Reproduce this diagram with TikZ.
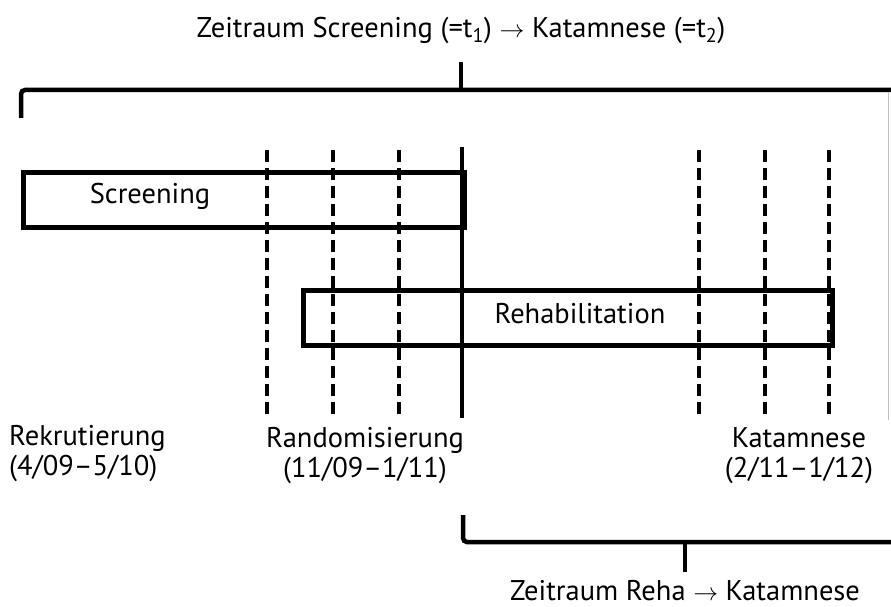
\documentclass[tikz,border=0pt]{standalone}
\usepackage{fontspec}
\setmainfont{PT Sans}
\begin{document}
\begin{tikzpicture}[x=1pt,y=-1pt,
  every node/.style={font=\fontsize{28.5}{32}\selectfont, inner sep=0pt},
  box/.style={draw, line width=4.5pt, minimum width=#1, minimum height=55pt, anchor=north west},
  solidline/.style={line width=4.5pt},
  dashline/.style={line width=4.5pt, dash pattern=on 12pt off 6pt},
  bracket/.style={line width=4.5pt, rounded corners=4pt},
  lbl/.style={align=center}]
\useasboundingbox (0,0) rectangle (891,607);

% title and top bracket
\node[lbl] (title) at (461,30) {Zeitraum Screening (=t\textsubscript{1}) \ensuremath{\rightarrow} Katamnese (=t\textsubscript{2})};
\coordinate (tl) at (21,118);
\coordinate (tc) at (461,62);
\draw[bracket] (tl) |- (893,90);
\draw[solidline] (tc) -- (461,90);
\draw[black!25, line width=1pt] (888,92) -- (888,420);

% boxes
\node[box=441pt] (scr) at (21,170) {};
\node at (150,196) {Screening};
\node[box=529pt] (reha) at (301,288) {};
\node at (580,314) {Rehabilitation};

% vertical lines
\foreach \x in {267,333,399,699,765,829}
  \draw[dashline] (\x,150) -- (\x,418);
\draw[solidline] (462,147) -- (462,418);

% labels
\node[align=left, anchor=west] (rek) at (9,454) {Rekrutierung\\[-2pt](4/09--5/10)};
\node[lbl] (ran) at (365,456) {Randomisierung\\[-2pt](11/09--1/11)};
\node[lbl] (kat) at (799,456) {Katamnese\\[-2pt](2/11--1/12)};

% bottom bracket
\coordinate (bl) at (463,515);
\draw[bracket] (bl) |- (893,542);
\draw[solidline] (685,542) -- (685,572);
\node[lbl] (sub) at (685,591) {Zeitraum Reha \ensuremath{\rightarrow} Katamnese};
\end{tikzpicture}
\end{document}
